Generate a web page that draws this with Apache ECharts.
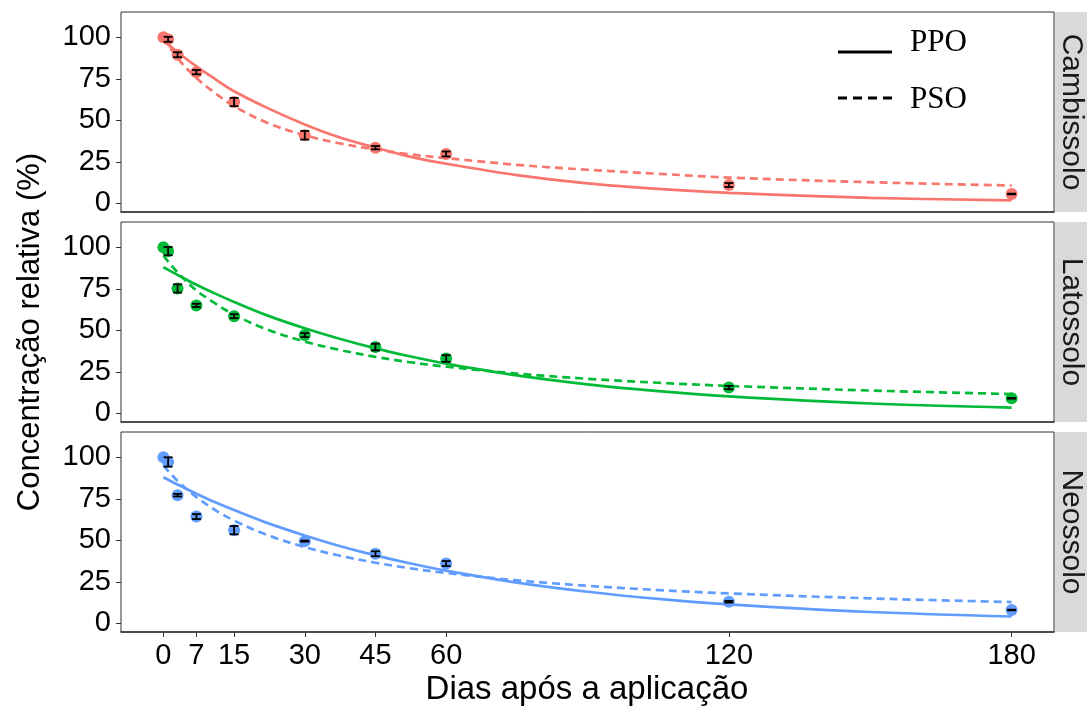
<!DOCTYPE html>
<html>
<head>
<meta charset="utf-8">
<script src="https://cdn.jsdelivr.net/npm/echarts@6/dist/echarts.min.js"></script>
<style>
  html, body { margin: 0; padding: 0; background: #fff; }
  #chart { width: 1087px; height: 708px; }
</style>
</head>
<body>
<div id="chart"></div>
<script>
// Sampling days of the observed concentrations
const days = [0, 1, 3, 7, 15, 30, 45, 60, 120, 180];
// Observed relative concentration (%) and standard deviation per soil
const cambMean = [100, 98.8, 89.5, 79.0, 61.0, 41.0, 33.5, 29.7, 11.0, 5.6];
const cambSd   = [null, 1.5, 1.5, 1.3, 2.5, 2.6, 1.0, 1.5, 1.2, 0.2];
const latoMean = [100, 97.7, 75.2, 65.0, 58.5, 47.1, 39.9, 33.0, 15.5, 9.0];
const latoSd   = [null, 2.5, 2.5, 1.0, 1.2, 1.2, 2.0, 2.0, 1.0, 0.2];
const neoMean  = [100, 97.2, 77.2, 64.3, 56.1, 49.5, 41.9, 36.0, 13.0, 8.0];
const neoSd    = [null, 2.8, 0.8, 1.5, 2.5, 0.3, 1.5, 1.5, 0.5, 0.2];

// Fitted kinetic curves (PPO = pseudo-first order, PSO = pseudo-second order)
const fitDays = [0, 3, 7, 11, 15, 22, 30, 37, 45, 52, 60, 75, 90, 105, 120, 150, 180];
const cambPPO = [98, 91, 82.5, 74.8, 67.5, 57.5, 47.5, 40.1, 33.5, 28.3, 23.8, 17, 12, 8.7, 6.3, 3.3, 1.8];
const cambPSO = [100, 87.5, 75.5, 66.3, 58.5, 48.5, 41, 36.3, 32.5, 29.6, 27.2, 23.2, 20.2, 17.8, 15.5, 12.7, 10.7];
const latoPPO = [88, 83.4, 77.4, 72.1, 67.1, 59, 51.2, 45.2, 39.1, 34.5, 29.9, 22.8, 17.4, 13.3, 10.2, 5.9, 3.4];
const latoPSO = [95, 84.9, 74, 66.2, 59.4, 50.5, 43.2, 38.4, 34, 30.9, 28.1, 23.9, 20.8, 18.4, 16.5, 13.7, 11.6];
const neoPPO  = [88, 83.6, 78.1, 72.9, 68.2, 60.5, 52.9, 46.9, 40.9, 36.3, 31.7, 24.5, 19, 14.7, 11.4, 6.8, 4.1];
const neoPSO  = [95, 85.8, 76, 68.2, 61.9, 53.2, 45.9, 41.0, 36.5, 33.3, 30.3, 25.9, 22.6, 20, 18, 15, 12.8];

const soils = ['Cambissolo', 'Latossolo', 'Neossolo'];
const colors = ['#F8766D', '#00BA38', '#619CFF'];
const xTicks = [0, 7, 15, 30, 45, 60, 120, 180];
const yTicks = [0, 25, 50, 75, 100];
const legendNames = ['PPO', 'PSO'];

const panels = [
  { mean: cambMean, sd: cambSd, ppo: cambPPO, pso: cambPSO },
  { mean: latoMean, sd: latoSd, ppo: latoPPO, pso: latoPSO },
  { mean: neoMean,  sd: neoSd,  ppo: neoPPO,  pso: neoPSO }
];

const SANS = '"Liberation Sans", Arial, Helvetica, sans-serif';
const SERIF = '"Liberation Serif", "Times New Roman", serif';
const panelTop = [12, 222, 432];
const panelH = 200;
const panelLeft = 121;
const panelRight = 1054;

const grids = [], xAxes = [], yAxes = [], series = [], graphics = [];

panels.forEach((p, i) => {
  const last = i === panels.length - 1;
  grids.push({
    left: panelLeft, top: panelTop[i], width: panelRight - panelLeft, height: panelH,
    show: true, borderColor: '#333333', borderWidth: 1, backgroundColor: '#fff'
  });
  xAxes.push({
    type: 'value', gridIndex: i, min: -9, max: 189,
    axisLine: { show: true, onZero: false, lineStyle: { color: '#333333', width: 1.6 } },
    axisTick: { show: last, customValues: xTicks, length: 5, lineStyle: { color: '#333333', width: 1 } },
    axisLabel: { show: last, customValues: xTicks, color: '#000', fontSize: 29, fontFamily: SANS, margin: 9 },
    splitLine: { show: false }
  });
  yAxes.push({
    type: 'value', gridIndex: i, min: -5.25, max: 115.25,
    axisLine: { show: false, onZero: false },
    axisTick: { show: true, customValues: yTicks, length: 5, lineStyle: { color: '#333333', width: 1 } },
    axisLabel: { show: true, customValues: yTicks, color: '#000', fontSize: 29, fontFamily: SANS, margin: 10 },
    splitLine: { show: false }
  });

  // observed means
  series.push({
    type: 'scatter', xAxisIndex: i, yAxisIndex: i, z: 2,
    symbol: 'circle', symbolSize: 12,
    itemStyle: { color: colors[i], opacity: 1 },
    data: days.map((d, k) => [d, p.mean[k]])
  });
  // fitted curves
  series.push({
    type: 'line', name: legendNames[0], xAxisIndex: i, yAxisIndex: i, z: 3,
    showSymbol: false, smooth: 0.35,
    lineStyle: { color: colors[i], width: 2.7, type: 'solid' },
    data: fitDays.map((d, k) => [d, p.ppo[k]])
  });
  series.push({
    type: 'line', name: legendNames[1], xAxisIndex: i, yAxisIndex: i, z: 3,
    showSymbol: false, smooth: 0.35,
    lineStyle: { color: colors[i], width: 2.7, type: [8, 5] },
    data: fitDays.map((d, k) => [d, p.pso[k]])
  });
  // error bars (mean ± sd)
  const bars = [];
  days.forEach((d, k) => {
    if (p.sd[k] != null) bars.push([d, p.mean[k] - p.sd[k], p.mean[k] + p.sd[k]]);
  });
  series.push({
    type: 'custom', xAxisIndex: i, yAxisIndex: i, z: 4,
    encode: { x: 0, y: [1, 2] },
    data: bars,
    renderItem: function (params, api) {
      const x = api.value(0);
      const top = api.coord([x, api.value(2)]);
      const bot = api.coord([x, api.value(1)]);
      const hw = 4.5;
      const st = { stroke: '#000', lineWidth: 1.8 };
      return {
        type: 'group',
        children: [
          { type: 'line', shape: { x1: top[0], y1: top[1], x2: bot[0], y2: bot[1] }, style: st },
          { type: 'line', shape: { x1: top[0] - hw, y1: top[1], x2: top[0] + hw, y2: top[1] }, style: st },
          { type: 'line', shape: { x1: bot[0] - hw, y1: bot[1], x2: bot[0] + hw, y2: bot[1] }, style: st }
        ]
      };
    }
  });

  // facet strip on the right
  graphics.push({
    type: 'rect', shape: { x: panelRight + 1, y: panelTop[i], width: 40, height: panelH },
    style: { fill: '#D9D9D9' }, z: 1
  });
  graphics.push({
    type: 'text', x: 1071, y: panelTop[i] + panelH / 2, rotation: -Math.PI / 2,
    style: { text: soils[i], fill: '#1A1A1A', font: '30px ' + SANS, textAlign: 'center', textVerticalAlign: 'middle' },
    z: 2
  });
});

// legend for the line types
graphics.push({ type: 'line', shape: { x1: 838, y1: 52, x2: 892, y2: 52 }, style: { stroke: '#000', lineWidth: 3 }, z: 5 });
graphics.push({ type: 'line', shape: { x1: 838, y1: 98, x2: 892, y2: 98 }, style: { stroke: '#000', lineWidth: 3, lineDash: [9, 6] }, z: 5 });
graphics.push({ type: 'text', x: 910, y: 43, style: { text: legendNames[0], fill: '#000', font: '31px ' + SERIF, textAlign: 'left', textVerticalAlign: 'middle' }, z: 5 });
graphics.push({ type: 'text', x: 910, y: 100, style: { text: legendNames[1], fill: '#000', font: '31px ' + SERIF, textAlign: 'left', textVerticalAlign: 'middle' }, z: 5 });

// axis titles
graphics.push({ type: 'text', x: 587, y: 690, style: { text: 'Dias após a aplicação', fill: '#000', font: '33px ' + SANS, textAlign: 'center', textVerticalAlign: 'middle' } });
graphics.push({ type: 'text', x: 30, y: 332, rotation: Math.PI / 2, style: { text: 'Concentração relativa (%)', fill: '#000', font: '31px ' + SANS, textAlign: 'center', textVerticalAlign: 'middle' } });

const chart = echarts.init(document.getElementById('chart'), null, { renderer: 'canvas' });
chart.setOption({
  animation: false,
  backgroundColor: '#fff',
  grid: grids,
  xAxis: xAxes,
  yAxis: yAxes,
  series: series,
  graphic: graphics
});
</script>
</body>
</html>
